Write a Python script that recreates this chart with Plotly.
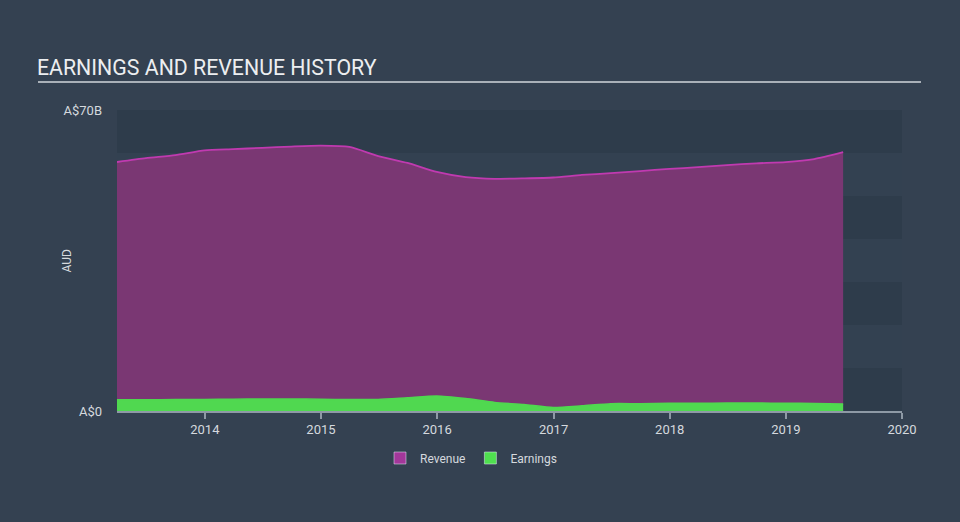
import plotly.graph_objects as go

dates = ["2013-03-31", "2013-06-30", "2013-09-30", "2013-12-31",
         "2014-03-31", "2014-06-30", "2014-09-30", "2014-12-31",
         "2015-03-31", "2015-06-30", "2015-09-30", "2015-12-31",
         "2016-03-31", "2016-06-30", "2016-09-30", "2016-12-31",
         "2017-03-31", "2017-06-30", "2017-09-30", "2017-12-31",
         "2018-03-31", "2018-06-30", "2018-09-30", "2018-12-31",
         "2019-03-31", "2019-06-30"]
revenue_b = [57.9, 58.8, 59.5, 60.6, 60.9, 61.2, 61.5, 61.7, 61.4, 59.3, 57.7, 55.6, 54.4,
             54.0, 54.1, 54.3, 54.9, 55.3, 55.8, 56.3, 56.7, 57.2, 57.6, 57.9, 58.6, 60.2]
earnings_b = [2.6, 2.6, 2.65, 2.7, 2.75, 2.8, 2.8, 2.75, 2.65, 2.7, 3.1, 3.5, 2.9,
              2.0, 1.5, 0.8, 1.2, 1.7, 1.7, 1.8, 1.8, 1.85, 1.85, 1.8, 1.75, 1.6]
year_ticks = ["2014-01-01", "2015-01-01", "2016-01-01", "2017-01-01",
              "2018-01-01", "2019-01-01", "2020-01-01"]
year_labels = ["2014", "2015", "2016", "2017", "2018", "2019", "2020"]
y_tickvals = [0, 70e9]
y_ticktext = ["A$0", "A$70B"]

revenue = [v * 1e9 for v in revenue_b]
earnings = [v * 1e9 for v in earnings_b]

BG = "#344151"
DARK = "#2e3c4b"
LIGHT = "#334151"
FONT = "Roboto"
TXT = "#d5d9de"

fig = go.Figure()
fig.add_trace(go.Scatter(x=dates, y=revenue, mode="lines", fill="tozeroy",
                         line=dict(color="#c03ab0", width=1.8, shape="spline", smoothing=0.6),
                         fillcolor="#7a3773", showlegend=False, hoverinfo="skip"))
fig.add_trace(go.Scatter(x=dates, y=earnings, mode="lines", fill="tozeroy",
                         line=dict(color="#4fd84f", width=1.5, shape="spline", smoothing=0.6),
                         fillcolor="#50d850", showlegend=False, hoverinfo="skip"))
fig.add_trace(go.Bar(x=[None], y=[None], name="Revenue", marker_color="#a3379a"))
fig.add_trace(go.Bar(x=[None], y=[None], name="Earnings", marker_color="#4fe04f"))

shapes = []
for lo in [0, 20e9, 40e9, 60e9]:
    shapes.append(dict(type="rect", xref="paper", yref="y", x0=0, x1=1, y0=lo, y1=lo + 10e9,
                       fillcolor=DARK, line=dict(width=0), layer="below"))
# title underline
shapes.append(dict(type="line", xref="paper", yref="paper",
                   x0=(38 - 117) / 785, x1=(921 - 117) / 785,
                   y0=(411 - 82) / 301, y1=(411 - 82) / 301,
                   line=dict(color="#a9b0b8", width=2)))

fig.update_layout(
    width=960, height=522,
    margin=dict(l=117, r=58, t=110, b=111),
    paper_bgcolor=BG, plot_bgcolor=LIGHT,
    font=dict(family=FONT, color=TXT, size=12),
    shapes=shapes,
    showlegend=True,
    legend=dict(orientation="h", x=(380 - 117) / 785, xanchor="left",
                y=(411 - 458) / 301, yanchor="middle",
                font=dict(family=FONT, size=12, color=TXT),
                bgcolor="rgba(0,0,0,0)", itemwidth=30),
    title=dict(text="EARNINGS AND REVENUE HISTORY", xref="container", yref="container",
               x=37 / 960, xanchor="left", y=1 - 68 / 522, yanchor="middle",
               font=dict(family=FONT, size=21.3, color="#eceef0")),
    annotations=[dict(text="AUD", xref="paper", yref="paper", x=(66 - 117) / 785, y=0.5,
                      xanchor="center", yanchor="middle", textangle=-90, showarrow=False,
                      font=dict(family=FONT, size=12, color=TXT))],
)
fig.update_xaxes(type="date", range=["2013-03-31", "2020-01-01"], tickvals=year_ticks,
                 ticktext=year_labels, showgrid=False, zeroline=False, showline=True,
                 linecolor="#8e99a5", linewidth=1.5, ticks="outside", ticklen=6,
                 tickcolor="#8e99a5", tickwidth=1.5, tickfont=dict(size=13, color=TXT))
fig.update_yaxes(range=[0, 70e9], tickvals=y_tickvals, ticktext=y_ticktext, showgrid=False,
                 zeroline=False, showline=False, ticks="", ticklabelstandoff=14,
                 tickfont=dict(size=13, color=TXT))

fig.write_html("out.html")
